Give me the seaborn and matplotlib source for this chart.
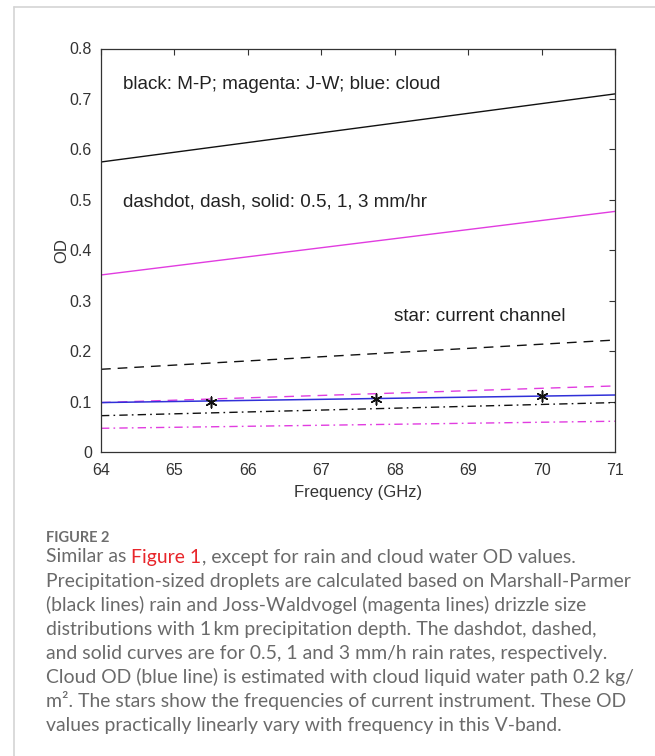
import matplotlib
matplotlib.use("Agg")
import matplotlib.pyplot as plt
import seaborn as sns
from matplotlib.lines import Line2D

# ---- data ----
freq = [64, 71]
mp_05 = [0.072, 0.098]
mp_1 = [0.164, 0.222]
mp_3 = [0.575, 0.710]
jw_05 = [0.047, 0.061]
jw_1 = [0.098, 0.131]
jw_3 = [0.351, 0.477]
cloud = [0.098, 0.113]
star_freq = [65.5, 67.75, 70.0]
star_od = [0.100, 0.106, 0.112]

x_ticks = [64, 65, 66, 67, 68, 69, 70, 71]
y_ticks = [0, 0.1, 0.2, 0.3, 0.4, 0.5, 0.6, 0.7, 0.8]
y_ticklabels = ["0", "0.1", "0.2", "0.3", "0.4", "0.5", "0.6", "0.7", "0.8"]

caption_title = "FIGURE 2"
caption_lines = [
    "Precipitation-sized droplets are calculated based on Marshall-Parmer",
    "(black lines) rain and Joss-Waldvogel (magenta lines) drizzle size",
    "distributions with 1\u2009km precipitation depth. The dashdot, dashed,",
    "and solid curves are for 0.5, 1 and 3 mm/h rain rates, respectively.",
    "Cloud OD (blue line) is estimated with cloud liquid water path 0.2 kg/",
    "m². The stars show the frequencies of current instrument. These OD",
    "values practically linearly vary with frequency in this V-band.",
]

sns.set_theme(style="white")
plt.rcParams['font.family'] = ['Liberation Sans', 'DejaVu Sans']

W, H = 655, 756
fig = plt.figure(figsize=(W / 100, H / 100), dpi=100)
fig.patch.set_facecolor("white")

ax = fig.add_axes([101 / W, 1 - 452 / H, 514 / W, 403.5 / H])

MAG = "#e13ce0"
BLK = "#111111"
BLUE = "#3030d8"
dash = (0, (7, 5))
dashdot = (0, (6, 3, 1.2, 3))

sns.lineplot(x=freq, y=mp_3, ax=ax, color=BLK, lw=1.0, linestyle="-")
sns.lineplot(x=freq, y=jw_3, ax=ax, color=MAG, lw=1.0, linestyle="-")
sns.lineplot(x=freq, y=mp_1, ax=ax, color=BLK, lw=1.0, linestyle=dash)
sns.lineplot(x=freq, y=jw_1, ax=ax, color=MAG, lw=1.0, linestyle=dash)
sns.lineplot(x=freq, y=mp_05, ax=ax, color=BLK, lw=1.0, linestyle=dashdot)
sns.lineplot(x=freq, y=jw_05, ax=ax, color=MAG, lw=1.0, linestyle=dashdot)
sns.lineplot(x=freq, y=cloud, ax=ax, color=BLUE, lw=1.1, linestyle="-")
sns.scatterplot(x=star_freq, y=star_od, ax=ax, marker=(6, 2, 0), s=60,
                color=BLK, linewidth=1.1, zorder=5)

ax.set_xlim(64, 71)
ax.set_ylim(0, 0.8)
ax.set_xticks(x_ticks)
ax.set_xticklabels([str(t) for t in x_ticks])
ax.set_yticks(y_ticks)
ax.set_yticklabels(y_ticklabels)
ax.tick_params(direction="in", top=True, right=True, length=4, width=0.8,
               colors="#333333", labelsize=11.5, labelcolor="#333333")
ax.tick_params(axis="y", pad=6.5)
ax.tick_params(axis="x", pad=8)
for s in ax.spines.values():
    s.set_color("#333333")
    s.set_linewidth(0.9)
ax.set_xlabel("Frequency (GHz)", fontsize=12, color="#333333", va="center")
ax.set_ylabel("OD", fontsize=12, color="#333333", va="center")
ax.xaxis.set_label_coords(0.5, (452 - 493) / 403.5)
ax.yaxis.set_label_coords((62 - 101) / 514, 0.5)

ax.text(64.3, 0.728, "black: M-P; magenta: J-W; blue: cloud", fontsize=13.6,
        color="#222222", va="center", ha="left")
ax.text(64.3, 0.496, "dashdot, dash, solid: 0.5, 1, 3 mm/hr", fontsize=13.6,
        color="#222222", va="center", ha="left")
ax.text(70.33, 0.268, "star: current channel", fontsize=13.6,
        color="#222222", va="center", ha="right")

# ---- page frame lines ----
fig.add_artist(Line2D([14 / W, 1], [1 - 7 / H, 1 - 7 / H], transform=fig.transFigure,
                      color="#d4d4d4", lw=1.2))
fig.add_artist(Line2D([14 / W, 14 / W], [0, 1 - 7 / H], transform=fig.transFigure,
                      color="#d4d4d4", lw=1.2))

# ---- caption ----
cap_font = ["Lato", "DejaVu Sans"]
cap_color = "#6a6a6a"
x0 = 46 / W
fig.text(x0, 1 - 538 / H, caption_title, fontsize=10.5, fontweight="bold",
         color="#6e6e6e", family=cap_font, va="center", ha="left")

renderer = fig.canvas.get_renderer()
fs = 12.6
probe = fig.text(0, 0, caption_lines[0], fontsize=fs, family=cap_font)
wpx = probe.get_window_extent(renderer).width
fs = fs * 585 / wpx
probe.remove()

def width_of(s):
    t = fig.text(0, 0, s, fontsize=fs, family=cap_font)
    w = t.get_window_extent(renderer).width
    t.remove()
    return w

y1 = 1 - 557 / H
p1 = "Similar as"
p2 = "Figure 1"
p3 = ", except for rain and cloud water OD values."
space = width_of("a a") - width_of("aa")
fig.text(x0, y1, p1, fontsize=fs, family=cap_font, color=cap_color, va="center", ha="left")
xa = x0 + (width_of(p1) + space) / W
fig.text(xa, y1, p2, fontsize=fs, family=cap_font, color="#e8262b", va="center", ha="left")
xb = xa + width_of(p2) / W
fig.text(xb, y1, p3, fontsize=fs, family=cap_font, color=cap_color, va="center", ha="left")

for i, line in enumerate(caption_lines):
    y = 1 - (581 + 24 * i) / H
    fig.text(x0, y, line, fontsize=fs, family=cap_font, color=cap_color,
             va="center", ha="left")

fig.savefig("out.png", dpi=100, facecolor="white")
